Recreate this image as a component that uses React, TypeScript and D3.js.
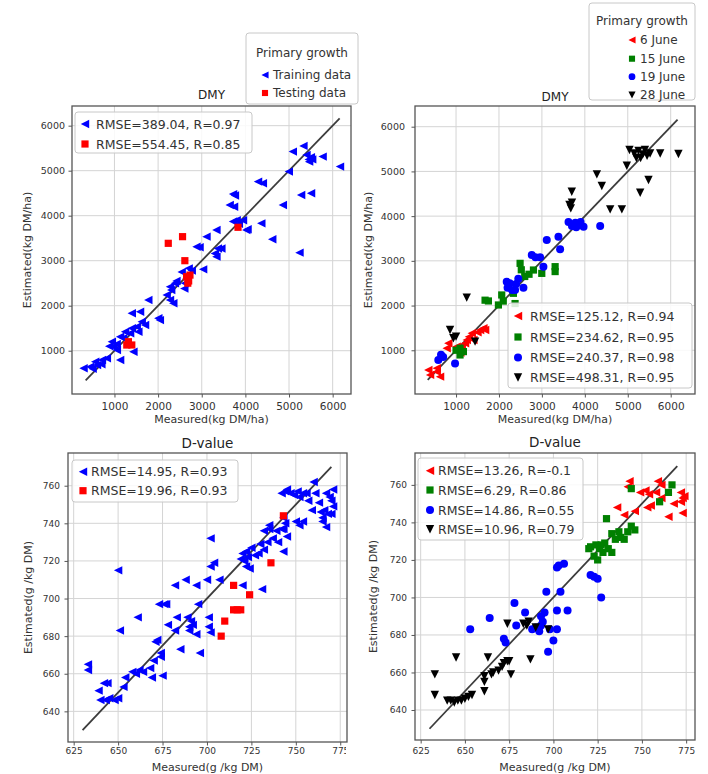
import { useEffect, useRef } from 'react';
import * as d3 from 'd3';

// ---- data ----
const dmyTicks = [1000, 2000, 3000, 4000, 5000, 6000];
const dvalXTicks = [625, 650, 675, 700, 725, 750, 775];
const dvalYTicks = [640, 660, 680, 700, 720, 740, 760];

const dmyTrain = [
  [292, 609], [445, 644], [500, 600], [559, 756], [600, 680], [712, 793], [826, 831], [700, 700],
  [940, 1200], [977, 1089], [1055, 1016], [1130, 793], [1130, 1311], [1244, 1422], [1358, 1387],
  [1397, 1498], [1511, 1533], [1548, 1422], [1397, 1831], [1587, 1867], [1776, 2127], [2005, 1720],
  [2040, 1680], [1625, 1644], [1701, 1571], [2272, 2422], [2386, 2498], [2196, 2238], [2272, 2127],
  [2348, 2053], [1434, 978], [1050, 1150], [1200, 1280], [880, 1100],
  [2300, 2350], [2420, 2550], [2540, 2750], [2615, 2500], [2650, 2600], [2700, 2830], [2770, 2780],
  [2600, 2380], [3032, 2808], [2880, 3310], [2950, 3300], [3108, 3534], [3336, 3682], [3336, 3090],
  [3370, 3270], [3450, 3270], [3300, 3160], [3640, 4238], [3717, 4480], [3740, 4200], [3760, 4450],
  [3717, 3870], [3800, 3900], [3945, 3900], [3850, 3820], [4021, 3680], [4050, 3700], [4290, 4757],
  [4400, 4720], [4364, 3830], [4615, 3475], [4858, 4238], [4995, 4979], [5239, 3179], [5277, 4460],
  [5505, 4497], [5330, 5550], [5087, 5424], [5400, 5350], [5450, 5250], [5500, 5300], [5460, 5200],
  [5530, 5250], [5770, 5313], [6167, 5090],
];
const dmyTest = [
  [1320, 1200], [1397, 1127], [1282, 1126], [2233, 3386], [2560, 3534], [2613, 3000], [2653, 2644],
  [2700, 2550], [2730, 2680], [2680, 2500], [3831, 3742],
];

const dmyJune6 = [
  [394, 449], [550, 520], [627, 410], [354, 559], [550, 600], [782, 1045], [820, 1156], [1015, 1082],
  [1132, 1082], [1210, 1156], [1249, 1230], [1366, 1380], [1404, 1231], [1560, 1454], [1637, 1492],
  [1677, 1454], [1100, 950], [1300, 1300], [1500, 1400],
];
const dmyJune15 = [
  [1093, 895], [1093, 1045], [1171, 970], [1000, 1000], [1676, 2120], [1754, 2103], [1987, 2013],
  [2064, 2237], [2100, 2100], [2336, 2274], [2375, 2045], [2492, 2944], [2520, 2800], [2803, 2795],
  [2997, 2720], [3308, 2870], [3308, 2760], [2700, 2700], [2600, 2650],
];
const dmyJune19 = [
  [587, 783], [700, 850], [977, 702], [650, 900], [2180, 2530], [2200, 2400], [2250, 2500], [2300, 2350],
  [2375, 2350], [2400, 2480], [2450, 2600], [2570, 2400], [2764, 3130], [2850, 3080], [2958, 3080],
  [3035, 2870], [3113, 3466], [3385, 3540], [3424, 3257], [3620, 3870], [3700, 3780], [3780, 3850],
  [3850, 3800], [3900, 3870], [3970, 3760], [4357, 3780], [3800, 3750],
];
const dmyJune28 = [
  [860, 1454], [938, 1268], [1000, 1305], [1443, 1194], [1249, 2177], [3696, 4546], [3642, 4248],
  [3673, 4174], [3700, 4300], [4280, 4934], [4395, 4673], [4590, 4151], [4862, 4151], [4978, 5127],
  [5289, 4524], [5483, 4807], [5040, 5480], [5150, 5400], [5250, 5460], [5300, 5300], [5350, 5380],
  [5400, 5480], [5450, 5350], [5520, 5400], [5200, 5300], [5755, 5400], [6180, 5390],
];

const dvalTrain = [
  [633, 665], [633, 662], [642, 655], [639, 651], [644, 655], [640, 646], [643, 646], [645, 647],
  [648, 646], [650, 647], [653, 653], [654, 658], [651, 683], [650, 715], [661, 690], [658, 661],
  [660, 660], [662, 662], [664, 661], [668, 663], [670, 667], [669, 658], [671, 677], [672, 678],
  [674, 671], [674, 669], [675, 659], [673, 697], [676, 697], [677, 697], [678, 686], [683, 690],
  [682, 683], [685, 673], [682, 707], [688, 710], [694, 707], [689, 690], [690, 683], [692, 686],
  [691, 688], [690, 685], [695, 697], [696, 671], [694, 681], [700, 710], [702, 717], [704, 719],
  [702, 732], [701, 690], [701, 685], [702, 682], [707, 710], [720, 707], [720, 724], [722, 725],
  [721, 720], [723, 722], [725, 727], [727, 723], [719, 721], [722, 717], [724, 716], [731, 705],
  [729, 724], [732, 726], [730, 729], [734, 730], [732, 736], [735, 737], [735, 739], [737, 732],
  [740, 730], [739, 736], [742, 737], [743, 743], [744, 740], [743, 737], [745, 733], [743, 725],
  [742, 756], [744, 757], [745, 758], [747, 756], [749, 755], [751, 757], [752, 754], [754, 756],
  [760, 762], [750, 741], [752, 739], [754, 741], [756, 756], [757, 752], [759, 747], [761, 756],
  [763, 751], [764, 746], [765, 743], [765, 741], [767, 738], [767, 756], [769, 754], [771, 758],
  [770, 752], [771, 749], [770, 745], [768, 745], [766, 747],
];
const dvalTest = [
  [715, 707], [724, 702], [736, 719], [743, 744], [715, 694], [717, 694], [719, 694], [710, 688], [708, 680],
];

const dvalJune6 = [
  [743, 762], [742, 759], [749, 756], [752, 757], [754, 755], [759, 762], [761, 760], [758, 756],
  [772, 756], [773, 753], [772, 751], [774, 754], [768, 750], [773, 745], [765, 743], [755, 749],
  [753, 748], [746, 746], [740, 744], [736, 748], [761, 753],
];
const dvalJune15 = [
  [744, 758], [767, 760], [765, 756], [760, 751], [730, 742], [744, 738], [746, 736], [738, 732],
  [740, 731], [733, 734], [729, 729], [724, 728], [721, 727], [720, 726], [731, 726], [733, 724],
  [728, 724], [737, 735], [726, 726], [723, 722], [725, 720], [727, 728], [735, 731], [742, 735],
];
const dvalJune19 = [
  [653, 683], [664, 689], [678, 697], [679, 685], [672, 678], [673, 676], [684, 692], [692, 682],
  [693, 685], [694, 687], [696, 703], [695, 692], [693, 690], [698, 683], [697, 671], [700, 677],
  [702, 683], [702, 693], [708, 693], [704, 703], [703, 717], [706, 718], [702, 716], [721, 712],
  [723, 711], [725, 710], [727, 700], [690, 684], [688, 683],
];
const dvalJune28 = [
  [633, 659], [633, 648], [645, 668], [640, 645], [642, 645], [644, 644], [646, 645], [648, 645],
  [650, 646], [652, 647], [654, 648], [661, 655], [661, 650], [661, 658], [663, 668], [665, 659],
  [666, 660], [669, 661], [671, 663], [672, 665], [674, 666], [675, 666], [676, 659], [674, 686],
  [683, 686], [685, 685], [686, 687], [687, 667], [697, 683], [690, 684],
];

const splitNames = ['Training data', 'Testing data'];
const dateNames = ['6 June', '15 June', '19 June', '28 June'];
const dmySplitStats = ['RMSE=389.04, R=0.97', 'RMSE=554.45, R=0.85'];
const dmyDateStats = ['RMSE=125.12, R=0.94', 'RMSE=234.62, R=0.95', 'RMSE=240.37, R=0.98', 'RMSE=498.31, R=0.95'];
const dvalSplitStats = ['RMSE=14.95, R=0.93', 'RMSE=19.96, R=0.93'];
const dvalDateStats = ['RMSE=13.26, R=-0.1', 'RMSE=6.29, R=0.86', 'RMSE=14.86, R=0.55', 'RMSE=10.96, R=0.79'];

// ---- styling ----
const W = 708;
const H = 774;
const FONT = '"DejaVu Sans", Verdana, sans-serif';
const BLUE = '#0000ff';
const RED = '#ff0000';
const GREEN = '#008000';
const BLACK = '#000000';
const TEXT = '#333';

const splitStyles = [
  { shape: 'left', color: BLUE, r: 4.2 },
  { shape: 'square', color: RED, r: 3.6 },
];
const dateStyles = [
  { shape: 'left', color: RED, r: 4.2 },
  { shape: 'square', color: GREEN, r: 3.6 },
  { shape: 'circle', color: BLUE, r: 4 },
  { shape: 'down', color: BLACK, r: 4.2 },
];

function markerPath(shape, r) {
  const p = d3.path();
  if (shape === 'left') {
    p.moveTo(r, -r); p.lineTo(r, r); p.lineTo(-r, 0); p.closePath();
  } else if (shape === 'down') {
    p.moveTo(-r, -r); p.lineTo(r, -r); p.lineTo(0, r); p.closePath();
  } else if (shape === 'square') {
    p.rect(-r, -r, 2 * r, 2 * r);
  } else {
    p.arc(0, 0, r, 0, 2 * Math.PI);
  }
  return p.toString();
}

const panels = [
  {
    box: [72, 351, 106, 394], xDomain: [27, 6420], yDomain: [38, 6437],
    xTicks: dmyTicks, yTicks: dmyTicks, line: [340, 6160],
    title: 'DMY', titleSize: 12, titleY: 95, xLabel: 'Measured(kg DM/ha)', xLabelY: 419,
    yLabel: 'Estimated(kg DM/ha)', yLabelX: 27, xTickSize: 10.5, yTickSize: 9.5, xTickY: 406, yGap: 7,
    series: [dmyTrain, dmyTest], styles: splitStyles,
    stat: { box: [75, 112, 177, 41], rows: [124, 144], mx: 85, tx: 96, texts: dmySplitStats },
    growth: { box: [246, 33, 112, 71], titleY: 52.7, rows: [75, 93], mx: 265, tx: 273, names: splitNames },
  },
  {
    box: [415, 695, 106, 394], xDomain: [44, 6566], yDomain: [22, 6463],
    xTicks: dmyTicks, yTicks: dmyTicks, line: [340, 6160],
    title: 'DMY', titleSize: 12, titleY: 97, xLabel: 'Measured(kg DM/ha)', xLabelY: 419,
    yLabel: 'Estimated(kg DM/ha)', yLabelX: 368, xTickSize: 10.5, yTickSize: 9.5, xTickY: 406, yGap: 10,
    series: [dmyJune6, dmyJune15, dmyJune19, dmyJune28], styles: dateStyles,
    stat: { box: [508, 303, 184, 85], rows: [316, 337, 357.5, 377.5], mx: 518, tx: 530, texts: dmyDateStats },
    growth: { box: [589, 3, 106, 97], titleY: 20.7, rows: [40, 58.7, 76.7, 95], mx: 632, tx: 640, names: dateNames },
  },
  {
    box: [68, 347, 453, 742], xDomain: [621.8, 778.8], yDomain: [623.7, 777.4],
    xTicks: dvalXTicks, yTicks: dvalYTicks, line: [630, 770],
    title: 'D-value', titleSize: 13.5, titleY: 442.7, xLabel: 'Measured(g /kg DM)', xLabelY: 766.7,
    yLabel: 'Estimated(g /kg DM)', yLabelX: 28, xTickSize: 9, yTickSize: 9, xTickY: 750.7, yGap: 8,
    series: [dvalTrain, dvalTest], styles: splitStyles,
    stat: { box: [72, 460, 166, 42], rows: [471.7, 490.7], mx: 83, tx: 91, texts: dvalSplitStats },
  },
  {
    box: [415, 695, 453, 740], xDomain: [621.8, 780], yDomain: [624, 777],
    xTicks: dvalXTicks, yTicks: dvalYTicks, line: [630, 770],
    title: 'D-value', titleSize: 13.5, titleY: 441.7, xLabel: 'Measured(g /kg DM)', xLabelY: 766.7,
    yLabel: 'Estimated(g /kg DM)', yLabelX: 373, xTickSize: 9, yTickSize: 9, xTickY: 750.5, yGap: 8,
    series: [dvalJune6, dvalJune15, dvalJune19, dvalJune28], styles: dateStyles,
    stat: { box: [418, 458, 165, 82], rows: [470.7, 490, 510, 529.3], mx: 430, tx: 438, texts: dvalDateStats },
    cover: [346, 744, 362, 30],
  },
];

function legendBox(g, [x, y, w, h]) {
  g.append('rect')
    .attr('x', x).attr('y', y).attr('width', w).attr('height', h).attr('rx', 3)
    .attr('fill', '#fff').attr('fill-opacity', 0.85)
    .attr('stroke', '#c8c8c8').attr('stroke-width', 1);
}

function drawPanel(svg, p) {
  const [x0, x1, y0, y1] = p.box;
  const x = d3.scaleLinear().domain(p.xDomain).range([x0, x1]);
  const y = d3.scaleLinear().domain(p.yDomain).range([y1, y0]);
  const g = svg.append('g').attr('font-family', FONT);

  if (p.cover) {
    const [cx, cy, cw, ch] = p.cover;
    g.append('rect').attr('x', cx).attr('y', cy).attr('width', cw).attr('height', ch).attr('fill', '#fff');
  }

  // grid
  g.append('g').selectAll('line').data(p.xTicks).join('line')
    .attr('x1', (d) => x(d)).attr('x2', (d) => x(d)).attr('y1', y0).attr('y2', y1)
    .attr('stroke', '#d4d4d4').attr('stroke-width', 1);
  g.append('g').selectAll('line').data(p.yTicks).join('line')
    .attr('y1', (d) => y(d)).attr('y2', (d) => y(d)).attr('x1', x0).attr('x2', x1)
    .attr('stroke', '#d4d4d4').attr('stroke-width', 1);

  // 1:1 line
  g.append('line')
    .attr('x1', x(p.line[0])).attr('y1', y(p.line[0]))
    .attr('x2', x(p.line[1])).attr('y2', y(p.line[1]))
    .attr('stroke', '#3c3c3c').attr('stroke-width', 1.8);

  // points
  p.series.forEach((data, i) => {
    const s = p.styles[i];
    g.append('g').selectAll('path').data(data).join('path')
      .attr('transform', (d) => `translate(${x(d[0])},${y(d[1])})`)
      .attr('d', markerPath(s.shape, s.r))
      .attr('fill', s.color);
  });

  // frame
  g.append('rect')
    .attr('x', x0).attr('y', y0).attr('width', x1 - x0).attr('height', y1 - y0)
    .attr('fill', 'none').attr('stroke', '#555').attr('stroke-width', 1.3);

  // axes
  const xt = p.xTickSize;
  g.append('g')
    .attr('transform', `translate(0,${y1})`)
    .call(d3.axisBottom(x).tickValues(p.xTicks).tickFormat(d3.format('d'))
      .tickSize(3.5).tickPadding(p.xTickY - y1 - 0.35 * xt - 3.5))
    .call((a) => a.select('.domain').remove())
    .call((a) => a.selectAll('line').attr('stroke', '#555'))
    .call((a) => a.selectAll('text').attr('font-size', xt).attr('font-family', FONT).attr('fill', TEXT));
  g.append('g')
    .attr('transform', `translate(${x0},0)`)
    .call(d3.axisLeft(y).tickValues(p.yTicks).tickFormat(d3.format('d'))
      .tickSize(3.5).tickPadding(p.yGap - 3.5))
    .call((a) => a.select('.domain').remove())
    .call((a) => a.selectAll('line').attr('stroke', '#555'))
    .call((a) => a.selectAll('text').attr('font-size', p.yTickSize).attr('font-family', FONT).attr('fill', TEXT));

  // labels
  g.append('text')
    .attr('x', (x0 + x1) / 2).attr('y', p.titleY + 0.36 * p.titleSize)
    .attr('text-anchor', 'middle').attr('font-size', p.titleSize).attr('fill', '#222')
    .text(p.title);
  g.append('text')
    .attr('x', (x0 + x1) / 2).attr('y', p.xLabelY + 0.36 * 11)
    .attr('text-anchor', 'middle').attr('font-size', 11).attr('fill', TEXT)
    .text(p.xLabel);
  g.append('text')
    .attr('transform', `translate(${p.yLabelX},${(y0 + y1) / 2}) rotate(-90)`)
    .attr('dy', '0.36em')
    .attr('text-anchor', 'middle').attr('font-size', 11).attr('fill', TEXT)
    .text(p.yLabel);

  // statistics legend
  const st = p.stat;
  legendBox(g, st.box);
  st.rows.forEach((ry, i) => {
    const s = p.styles[i];
    g.append('path').attr('transform', `translate(${st.mx},${ry})`).attr('d', markerPath(s.shape, s.r)).attr('fill', s.color);
    g.append('text').attr('x', st.tx).attr('y', ry + 0.36 * 12.5)
      .attr('font-size', 12.5).attr('fill', TEXT).text(st.texts[i]);
  });

  // primary growth legend
  const gr = p.growth;
  if (gr) {
    legendBox(g, gr.box);
    g.append('text')
      .attr('x', gr.box[0] + gr.box[2] / 2).attr('y', gr.titleY + 0.36 * 12)
      .attr('text-anchor', 'middle').attr('font-size', 12).attr('fill', TEXT).text('Primary growth');
    gr.rows.forEach((ry, i) => {
      const s = p.styles[i];
      g.append('path').attr('transform', `translate(${gr.mx},${ry})`).attr('d', markerPath(s.shape, s.r * 0.85)).attr('fill', s.color);
      g.append('text').attr('x', gr.tx).attr('y', ry + 0.36 * 12)
        .attr('font-size', 12).attr('fill', TEXT).text(gr.names[i]);
    });
  }
}

export default function App() {
  const ref = useRef(null);
  useEffect(() => {
    const svg = d3.select(ref.current);
    svg.selectAll('*').remove();
    svg.append('rect').attr('width', W).attr('height', H).attr('fill', '#fff');
    panels.forEach((p) => drawPanel(svg, p));
  }, []);
  return (
    <svg
      ref={ref}
      width={W}
      height={H}
      style={{ position: 'absolute', left: 0, top: 0, display: 'block' }}
    />
  );
}
